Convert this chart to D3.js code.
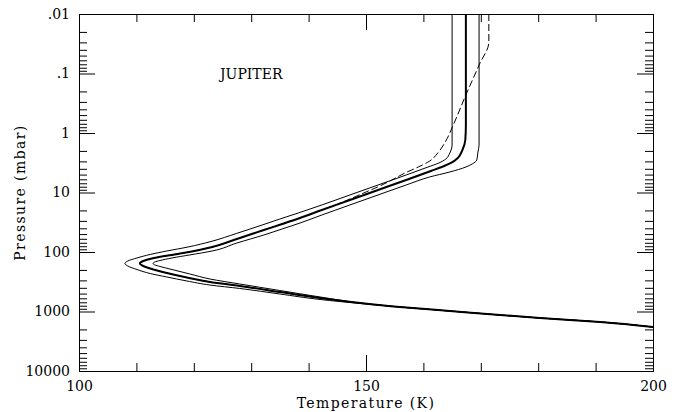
<!DOCTYPE html>
<html><head><meta charset="utf-8">
<script src="https://cdn.jsdelivr.net/npm/d3@7"></script>
<style>
body{margin:0;background:#fff;}
svg{display:block;}
svg text{font-family:"DejaVu Serif",serif;fill:#000;}
</style></head><body>
<svg id="c" width="686" height="412"></svg>
<script>
// Nominal retrieved profile: pressure (mbar) and temperature (K)
const nominalPressure = [0.01, 0.734, 1.31, 1.93, 2.63, 3.19, 3.73, 4.35, 6.17, 9.08, 13.4, 19.7, 26.8, 33.8, 42.7, 60.5, 82.4, 100, 114.5, 128.5, 141.6, 156, 172, 189, 225, 268, 319, 372, 470, 593, 719, 840, 981, 1285, 1500, 1824];
const nominalTemp     = [167.4, 167.4, 167.3, 166.8, 166.0, 164.8, 163.2, 161.3, 157.0, 152.1, 147.2, 142.3, 138.5, 135.4, 132.2, 127.5, 123.2, 119.2, 115.5, 112.7, 111.2, 110.6, 111.2, 112.4, 115.3, 118.8, 122.8, 128.0, 135.0, 142.0, 149.0, 155.9, 164.6, 180.3, 190.8, 200.0];
// Lower (cold) error envelope
const coldPressure = [0.01, 1.59, 2.17, 2.74, 3.19, 3.73, 5.08, 7.48, 11.0, 16.2, 22.1, 27.9, 35.2, 48.9, 66.6, 82.4, 96.2, 110, 126, 141.6, 156, 172, 197, 230, 263, 307, 359, 410, 508, 628, 734, 840, 981, 1285, 1500, 1824];
const coldTemp     = [165.0, 165.0, 164.6, 163.9, 162.7, 160.8, 157.0, 152.1, 147.2, 142.3, 138.2, 135.0, 131.9, 127.4, 123.0, 119.0, 115.3, 112.4, 110.1, 108.5, 108.0, 108.5, 110.1, 112.4, 115.3, 118.8, 122.8, 128.0, 135.0, 142.0, 149.0, 155.9, 164.6, 180.3, 190.8, 200.0];
// Upper (warm) error envelope
const warmPressure = [0.01, 1.59, 2.09, 2.84, 3.32, 3.73, 4.52, 5.48, 7.48, 11.0, 16.2, 23.9, 32.6, 41.0, 51.8, 70.6, 96.2, 112, 126, 139, 147.2, 156, 165, 175, 197, 234, 284, 345, 444, 570, 719, 840, 981, 1285, 1500, 1824];
const warmTemp     = [169.7, 169.7, 169.5, 169.3, 168.5, 167.4, 164.6, 161.1, 157.0, 152.1, 147.2, 142.3, 138.5, 135.4, 132.2, 127.5, 123.2, 119.3, 116.2, 114.1, 113.2, 112.9, 113.2, 114.1, 116.2, 119.3, 122.8, 128.0, 135.0, 142.0, 149.0, 155.9, 164.6, 180.3, 190.8, 200.0];
// Dashed comparison profile
const dashPressure = [0.01, 0.0296, 0.0719, 0.2296, 0.734, 1.42, 2.17, 2.96, 3.73, 4.70, 6.17, 7.78, 9.81, 12.4, 15.6, 19.7, 26.8, 33.8, 42.7, 60.5, 82.4, 100, 114.5, 128.5, 141.6, 156, 172, 189, 225, 268, 319, 372, 470, 593, 719, 840, 981, 1285, 1500, 1824];
const dashTemp     = [171.4, 171.4, 169.7, 167.4, 165.2, 163.8, 162.5, 161.1, 159.1, 156.8, 154.5, 152.4, 150.0, 147.6, 145.1, 142.3, 138.5, 135.4, 132.2, 127.5, 123.2, 119.2, 115.5, 112.7, 111.2, 110.6, 111.2, 112.4, 115.3, 118.8, 122.8, 128.0, 135.0, 142.0, 149.0, 155.9, 164.6, 180.3, 190.8, 200.0];

const xMajorTicks = [100, 150, 200];
const xMinorTicks = [110, 120, 130, 140, 160, 170, 180, 190];
const xTickLabels = ["100", "150", "200"];
const yMajorTicks = [0.01, 0.1, 1, 10, 100, 1000, 10000];
const yTickLabels = [".01", ".1", "1", "10", "100", "1000", "10000"];
const xTitle = "Temperature (K)";
const yTitle = "Pressure (mbar)";
const planetLabel = "JUPITER";

const L = 79, R = 653, T = 14, B = 371;
const svg = d3.select("#c");
const x = d3.scaleLinear().domain([100, 200]).range([L, R]);
const y = d3.scaleLog().domain([0.01, 10000]).range([T, B]);

const yMinorTicks = [];
yMajorTicks.slice(0, -1).forEach(d => { for (let k = 2; k <= 9; k++) yMinorTicks.push(d * k); });

function styleAxis(g) {
  g.selectAll("path.domain").attr("stroke", "#000").attr("stroke-width", 1);
  g.selectAll(".tick line").attr("stroke", "#000").attr("stroke-width", 1);
  g.selectAll("text").attr("font-size", 14).attr("font-family", "DejaVu Serif");
}
// minor ticks
svg.append("g").attr("transform", `translate(0,${B})`)
  .call(d3.axisBottom(x).tickValues(xMinorTicks).tickSizeInner(-8).tickSizeOuter(0).tickFormat(""))
  .call(styleAxis);
svg.append("g").attr("transform", `translate(0,${T})`)
  .call(d3.axisTop(x).tickValues(xMinorTicks).tickSizeInner(-8).tickSizeOuter(0).tickFormat(""))
  .call(styleAxis);
svg.append("g").attr("transform", `translate(${L},0)`)
  .call(d3.axisLeft(y).tickValues(yMinorTicks).tickSizeInner(-8).tickSizeOuter(0).tickFormat(""))
  .call(styleAxis);
svg.append("g").attr("transform", `translate(${R},0)`)
  .call(d3.axisRight(y).tickValues(yMinorTicks).tickSizeInner(-8).tickSizeOuter(0).tickFormat(""))
  .call(styleAxis);
// major ticks with labels
svg.append("g").attr("transform", `translate(0,${B})`)
  .call(d3.axisBottom(x).tickValues(xMajorTicks).tickSizeInner(-16).tickSizeOuter(0).tickPadding(10)
    .tickFormat((d, i) => xTickLabels[i]))
  .call(styleAxis);
svg.append("g").attr("transform", `translate(0,${T})`)
  .call(d3.axisTop(x).tickValues(xMajorTicks).tickSizeInner(-16).tickSizeOuter(0).tickFormat(""))
  .call(styleAxis);
svg.append("g").attr("transform", `translate(${L},0)`)
  .call(d3.axisLeft(y).tickValues(yMajorTicks).tickSizeInner(-16).tickSizeOuter(0).tickPadding(9)
    .tickFormat((d, i) => yTickLabels[i]))
  .call(styleAxis);
svg.append("g").attr("transform", `translate(${R},0)`)
  .call(d3.axisRight(y).tickValues(yMajorTicks).tickSizeInner(-16).tickSizeOuter(0).tickFormat(""))
  .call(styleAxis);

// clip
svg.append("clipPath").attr("id", "plotclip").append("rect")
  .attr("x", L).attr("y", T).attr("width", R - L).attr("height", B - T);

const line = d3.line().x(d => x(d.t)).y(d => y(d.p)).curve(d3.curveMonotoneY);
const mk = (ps, ts) => ps.map((p, i) => ({p: p, t: ts[i]}));
const plot = svg.append("g").attr("clip-path", "url(#plotclip)");

plot.append("path").datum(mk(coldPressure, coldTemp)).attr("d", line)
  .attr("fill", "none").attr("stroke", "#000").attr("stroke-width", 1);
plot.append("path").datum(mk(warmPressure, warmTemp)).attr("d", line)
  .attr("fill", "none").attr("stroke", "#000").attr("stroke-width", 1);
plot.append("path").datum(mk(nominalPressure, nominalTemp)).attr("d", line)
  .attr("fill", "none").attr("stroke", "#000").attr("stroke-width", 2);
plot.append("path").datum(mk(dashPressure, dashTemp)).attr("d", line)
  .attr("fill", "none").attr("stroke", "#000").attr("stroke-width", 1).attr("stroke-dasharray", "7,3");

// titles
svg.append("text").attr("x", (L + R) / 2).attr("y", 408).attr("text-anchor", "middle")
  .attr("font-size", 14).attr("letter-spacing", 1.4).text(xTitle);
svg.append("text").attr("transform", `translate(25,${(T + B) / 2}) rotate(-90)`).attr("text-anchor", "middle")
  .attr("font-size", 14).attr("letter-spacing", 1.4).text(yTitle);
svg.append("text").attr("x", 220).attr("y", 79).attr("font-size", 14)
  .attr("font-family", "DejaVu Sans").text(planetLabel);
</script>
</body></html>
